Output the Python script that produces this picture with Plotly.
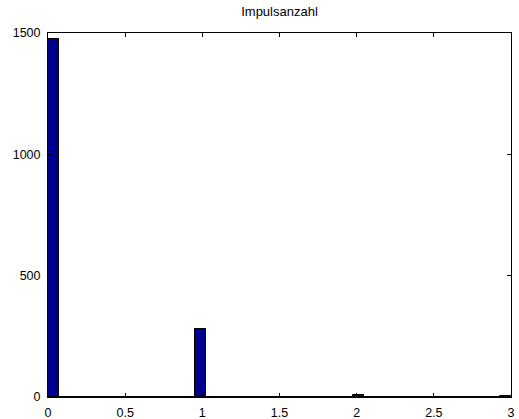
import numpy as np
import plotly.graph_objects as go

# Histogram of pulse counts: 41 equal bins over [0, 3]
n_bins = 41
bin_edges = np.linspace(0.0, 3.0, n_bins + 1)
bin_counts = [0] * n_bins
bin_counts[0] = 1476
bin_counts[13] = 280
bin_counts[27] = 10
bin_counts[40] = 6

x_ticks = [0, 0.5, 1, 1.5, 2, 2.5, 3]
x_tick_labels = ["0", "0.5", "1", "1.5", "2", "2.5", "3"]
y_ticks = [0, 500, 1000, 1500]
y_tick_labels = ["0", "500", "1000", "1500"]

centers = (bin_edges[:-1] + bin_edges[1:]) / 2
widths = np.diff(bin_edges)

fig = go.Figure(
    go.Bar(
        x=centers,
        y=bin_counts,
        width=widths,
        marker=dict(color="#00008F", line=dict(color="black", width=1)),
        hoverinfo="x+y",
    )
)

font_family = "Liberation Sans, Arial, sans-serif"
axis_common = dict(
    showline=True,
    linecolor="black",
    linewidth=1,
    mirror="allticks",
    ticks="inside",
    ticklen=4,
    tickcolor="black",
    showgrid=False,
    zeroline=False,
    automargin=False,
    tickfont=dict(family=font_family, size=12.5, color="black"),
)

fig.update_layout(
    width=519,
    height=419,
    margin=dict(l=48, r=8, t=33, b=22),
    paper_bgcolor="white",
    plot_bgcolor="white",
    showlegend=False,
    bargap=0,
    title=dict(
        text="Impulsanzahl",
        x=(48 + 511) / 2 / 519,
        xanchor="center",
        y=1 - 11 / 419,
        yanchor="middle",
        font=dict(family=font_family, size=13, color="black"),
    ),
    xaxis=dict(range=[0, 3], tickvals=x_ticks, ticktext=x_tick_labels,
               ticklabelstandoff=4, **axis_common),
    yaxis=dict(range=[0, 1500], tickvals=y_ticks, ticktext=y_tick_labels,
               ticklabelstandoff=4, **axis_common),
)

fig.write_html("out.html")
